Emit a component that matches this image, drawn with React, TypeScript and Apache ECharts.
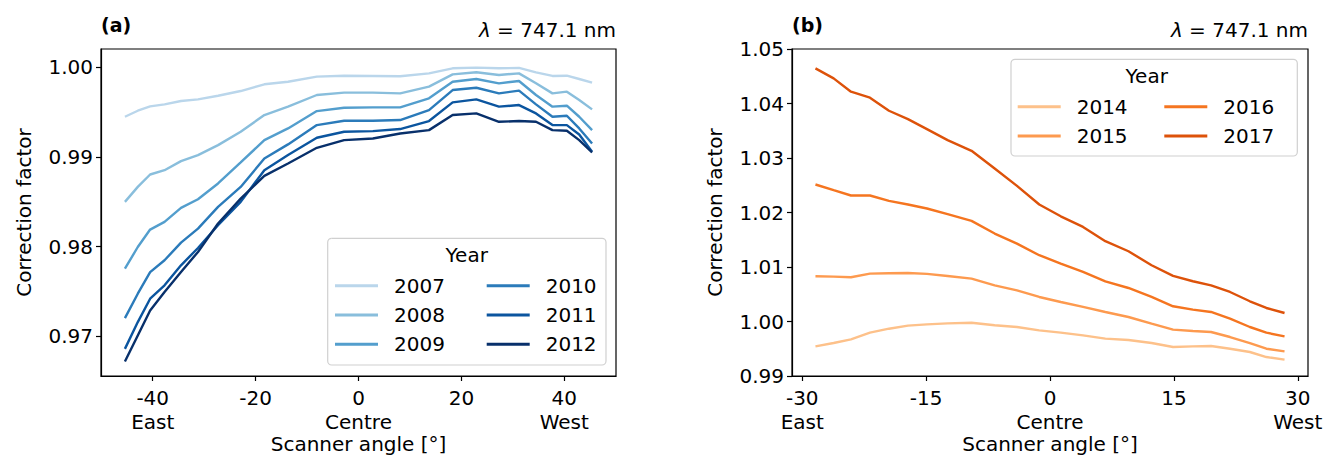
import React, { useEffect, useRef } from 'react';
import * as echarts from 'echarts';

// ---------- Panel (a) data ----------
const anglesA = [-45.4, -42.9, -40.5, -37.7, -34.5, -31.2, -27.3, -22.9, -18.3, -13.7, -8.1, -2.8, 2.8, 8.1, 13.7, 18.3, 22.9, 27.3, 31.2, 34.5, 37.7, 40.5, 42.9, 45.4];
const yearsA = ['2007', '2008', '2009', '2010', '2011', '2012'];
const y2007 = [0.99446, 0.99513, 0.99561, 0.99584, 0.99621, 0.99639, 0.9968, 0.99732, 0.99807, 0.99836, 0.99892, 0.99903, 0.999, 0.99896, 0.99929, 0.99985, 0.99993, 0.99985, 0.99989, 0.9994, 0.999, 0.99903, 0.99866, 0.99825];
const y2008 = [0.98498, 0.98665, 0.98803, 0.98851, 0.98952, 0.99019, 0.9913, 0.99279, 0.99465, 0.99558, 0.99688, 0.99714, 0.99714, 0.99706, 0.99781, 0.99918, 0.99941, 0.99911, 0.99929, 0.99818, 0.99706, 0.99725, 0.99632, 0.99528];
const y2009 = [0.97755, 0.97996, 0.9819, 0.98275, 0.98431, 0.98528, 0.98703, 0.98937, 0.99186, 0.99316, 0.99509, 0.99546, 0.9955, 0.9955, 0.99651, 0.99836, 0.99866, 0.99818, 0.99844, 0.99688, 0.99558, 0.99569, 0.99446, 0.99297];
const y2010 = [0.97204, 0.97476, 0.97717, 0.97848, 0.98045, 0.98201, 0.98442, 0.98665, 0.98981, 0.99138, 0.99353, 0.99401, 0.99401, 0.99409, 0.9952, 0.99743, 0.99769, 0.99706, 0.99736, 0.99584, 0.99446, 0.99457, 0.99316, 0.99149];
const y2011 = [0.96862, 0.9716, 0.9742, 0.97569, 0.97792, 0.97985, 0.98238, 0.98498, 0.98851, 0.99019, 0.99212, 0.99279, 0.99286, 0.99309, 0.99398, 0.99606, 0.99639, 0.99558, 0.99576, 0.99483, 0.99353, 0.99353, 0.99249, 0.99056];
const y2012 = [0.96721, 0.97011, 0.9729, 0.97494, 0.97717, 0.97941, 0.98257, 0.98535, 0.98788, 0.98926, 0.991, 0.99186, 0.99204, 0.9926, 0.99297, 0.99465, 0.99483, 0.9939, 0.99398, 0.9939, 0.99297, 0.9929, 0.99186, 0.99048];
const valuesA = [y2007, y2008, y2009, y2010, y2011, y2012];
const colorsA = ['#bad6eb', '#89bedc', '#539ecd', '#2b7bba', '#0b559f', '#08306b'];
const xTicksA = [-40, -20, 0, 20, 40];
const xTickNamesA = ['East', '', 'Centre', '', 'West'];
const yTicksA = [0.97, 0.98, 0.99, 1.0];

// ---------- Panel (b) data ----------
const anglesB = [-28.4, -26.2, -24.1, -21.8, -19.5, -17.2, -14.9, -12.4, -9.5, -6.7, -4.0, -1.3, 1.3, 4.0, 6.7, 9.5, 12.3, 14.9, 17.3, 19.5, 21.8, 24.2, 26.2, 28.4];
const yearsB = ['2014', '2015', '2016', '2017'];
const y2014 = [0.99544, 0.99605, 0.99672, 0.99795, 0.99868, 0.99924, 0.99948, 0.99966, 0.99978, 0.9993, 0.99899, 0.99838, 0.99795, 0.99746, 0.99685, 0.9966, 0.99605, 0.99532, 0.99544, 0.9955, 0.99501, 0.9944, 0.99348, 0.993];
const y2015 = [1.0083, 1.00824, 1.00811, 1.00879, 1.00885, 1.00891, 1.00873, 1.00836, 1.00787, 1.00664, 1.00572, 1.0045, 1.00358, 1.00267, 1.00175, 1.00083, 0.99961, 0.9985, 0.99826, 0.99807, 0.99715, 0.99605, 0.99501, 0.99452];
const y2016 = [1.02514, 1.0241, 1.02312, 1.02312, 1.02214, 1.02146, 1.02073, 1.01969, 1.01846, 1.01614, 1.0143, 1.01216, 1.01062, 1.00909, 1.00738, 1.00615, 1.0045, 1.00279, 1.00218, 1.00175, 1.00052, 0.99899, 0.99795, 0.99727];
const y2017 = [1.04645, 1.04461, 1.04216, 1.04106, 1.03867, 1.03714, 1.0353, 1.03328, 1.03132, 1.02808, 1.02489, 1.02146, 1.0193, 1.01736, 1.01473, 1.01289, 1.01032, 1.00836, 1.00738, 1.00664, 1.00542, 1.00371, 1.00248, 1.00156];
const valuesB = [y2014, y2015, y2016, y2017];
const colorsB = ['#fdc18a', '#fd9a4f', '#f57520', '#dd520a'];
const xTicksB = [-30, -15, 0, 15, 30];
const xTickNamesB = ['East', '', 'Centre', '', 'West'];
const yTicksB = [0.99, 1.0, 1.01, 1.02, 1.03, 1.04, 1.05];

const FONT = 'DejaVu Sans';
const FS = 20;

function xAxisDef(gridIndex: number, min: number, max: number, ticks: number[], names: string[]) {
  return {
    type: 'value', gridIndex, min, max,
    name: 'Scanner angle [°]', nameLocation: 'middle', nameGap: 58, nameMoveOverlap: false,
    nameTextStyle: { fontFamily: FONT, fontSize: FS, lineHeight: 20, color: '#000' },
    axisLine: { show: true, onZero: false, lineStyle: { color: '#000', width: 1.2 } },
    axisTick: { show: true, length: 5, customValues: ticks, lineStyle: { color: '#000', width: 1.2 } },
    axisLabel: {
      customValues: ticks, margin: 10, color: '#000', fontFamily: FONT, fontSize: FS, lineHeight: 24,
      formatter: (v: number) => {
        const i = ticks.indexOf(v);
        return i >= 0 && names[i] ? `${v}\n${names[i]}` : `${v}`;
      },
    },
    splitLine: { show: false },
  };
}

function yAxisDef(gridIndex: number, min: number, max: number, ticks: number[]) {
  return {
    type: 'value', gridIndex, min, max,
    name: 'Correction factor', nameLocation: 'middle', nameGap: 67, nameMoveOverlap: false,
    nameTextStyle: { fontFamily: FONT, fontSize: FS, color: '#000' },
    axisLine: { show: true, onZero: false, lineStyle: { color: '#000', width: 1.2 } },
    axisTick: { show: true, length: 5, customValues: ticks, lineStyle: { color: '#000', width: 1.2 } },
    axisLabel: {
      customValues: ticks, margin: 8, color: '#000', fontFamily: FONT, fontSize: FS,
      formatter: (v: number) => v.toFixed(2),
    },
    splitLine: { show: false },
  };
}

function legendDef(names: string[], left: number, top: number) {
  return {
    data: names, orient: 'vertical', left, top, padding: 0, z: 10,
    icon: 'rect', itemWidth: 43, itemHeight: 3, itemGap: 9.3,
    selectedMode: false,
    textStyle: { fontFamily: FONT, fontSize: FS, color: '#000', lineHeight: 20, padding: [0, 0, 0, 11] },
  };
}

export default function App() {
  const ref = useRef<HTMLDivElement>(null);
  useEffect(() => {
    const chart = echarts.init(ref.current!, null, { renderer: 'svg' });
    const series: any[] = [];
    yearsA.forEach((y, k) => {
      series.push({
        name: y, type: 'line', xAxisIndex: 0, yAxisIndex: 0, symbol: 'none', z: 2,
        data: anglesA.map((a, i) => [a, valuesA[k][i]]),
        lineStyle: { color: colorsA[k], width: 2.4 }, itemStyle: { color: colorsA[k] },
      });
    });
    yearsB.forEach((y, k) => {
      series.push({
        name: y, type: 'line', xAxisIndex: 1, yAxisIndex: 1, symbol: 'none', z: 2,
        data: anglesB.map((a, i) => [a, valuesB[k][i]]),
        lineStyle: { color: colorsB[k], width: 2.4 }, itemStyle: { color: colorsB[k] },
      });
    });

    const titleStyle = { fontFamily: FONT, fontSize: FS, fill: '#000' };
    const rich = { i: { fontFamily: FONT, fontSize: FS, fontStyle: 'italic', fill: '#000' } };
    const gridBase = { top: 49, height: 327, show: true, borderColor: '#000', borderWidth: 1.2, backgroundColor: 'transparent', containLabel: false, outerBoundsMode: 'none' };
    chart.setOption({
      animation: false,
      backgroundColor: '#fff',
      grid: [
        { ...gridBase, left: 101, width: 515 },
        { ...gridBase, left: 792, width: 516 },
      ],
      xAxis: [
        xAxisDef(0, -50.05, 50.05, xTicksA, xTickNamesA),
        xAxisDef(1, -31.24, 31.24, xTicksB, xTickNamesB),
      ],
      yAxis: [
        yAxisDef(0, 0.9656, 1.002, yTicksA),
        yAxisDef(1, 0.99, 1.05, yTicksB),
      ],
      legend: [
        legendDef(yearsA.slice(0, 3), 335, 275.7),
        legendDef(yearsA.slice(3), 486.7, 275.7),
        legendDef(yearsB.slice(0, 2), 1017.7, 96.7),
        legendDef(yearsB.slice(2), 1164.3, 96.7),
      ],
      graphic: [
        { type: 'rect', z: 3, shape: { x: 327.7, y: 238.3, width: 278.3, height: 126.7, r: 4 }, style: { fill: 'rgba(255,255,255,0.8)', stroke: '#d0d0d0', lineWidth: 1.2 } },
        { type: 'text', z: 10, x: 466.7, y: 255, style: { ...titleStyle, text: 'Year', align: 'center', verticalAlign: 'middle' } },
        { type: 'rect', z: 3, shape: { x: 1011, y: 59.3, width: 286.3, height: 96.7, r: 4 }, style: { fill: 'rgba(255,255,255,0.8)', stroke: '#d0d0d0', lineWidth: 1.2 } },
        { type: 'text', z: 10, x: 1146.7, y: 76, style: { ...titleStyle, text: 'Year', align: 'center', verticalAlign: 'middle' } },
        { type: 'text', x: 101, y: 25, style: { ...titleStyle, fontSize: 19, fontWeight: 'bold', text: '(a)', align: 'left', verticalAlign: 'middle' } },
        { type: 'text', x: 616, y: 30, style: { ...titleStyle, text: '{i|λ} = 747.1 nm', align: 'right', verticalAlign: 'middle', rich } },
        { type: 'text', x: 792, y: 25, style: { ...titleStyle, fontSize: 19, fontWeight: 'bold', text: '(b)', align: 'left', verticalAlign: 'middle' } },
        { type: 'text', x: 1308, y: 30, style: { ...titleStyle, text: '{i|λ} = 747.1 nm', align: 'right', verticalAlign: 'middle', rich } },
      ],
      series,
    });
    return () => chart.dispose();
  }, []);
  return <div ref={ref} style={{ position: 'absolute', left: 0, top: 0, width: 1326, height: 459 }} />;
}
